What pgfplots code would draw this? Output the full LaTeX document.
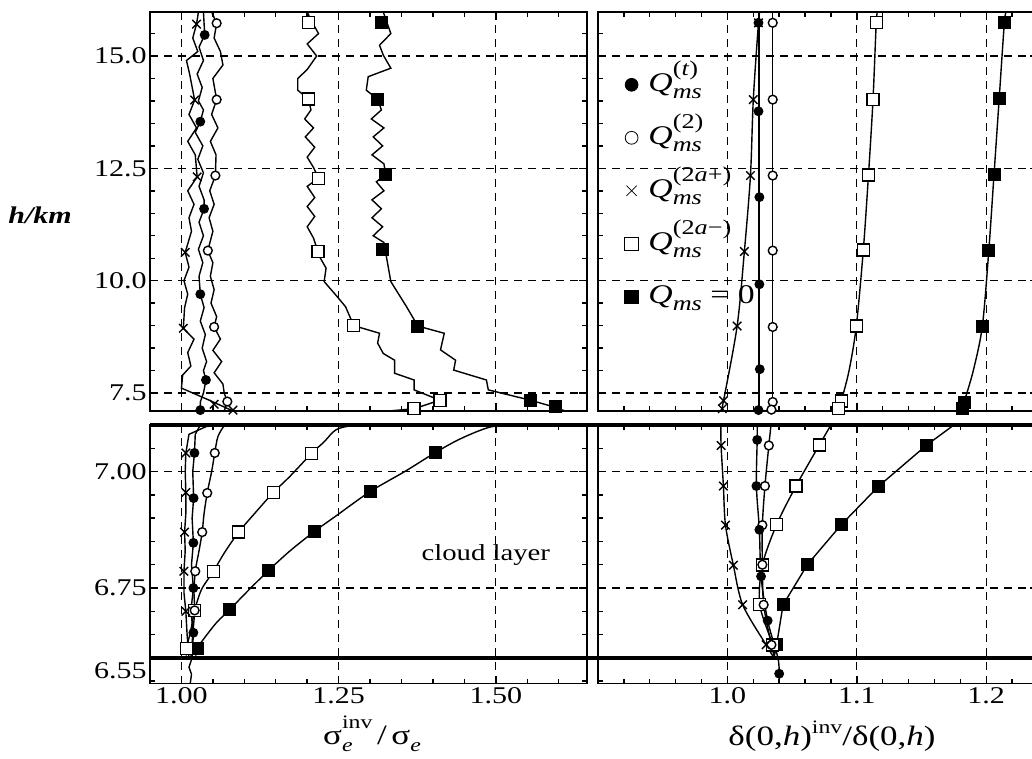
\documentclass[border=0pt]{standalone}
\usepackage{fontspec}
\setmainfont{Liberation Serif}[FakeStretch=1.25]
\usepackage{pgfplots}
\pgfplotsset{compat=1.18}

\newcommand{\sub}[1]{\raisebox{-0.55ex}{\fontsize{9.5}{10}\selectfont #1}}
\newcommand{\sps}[1]{\raisebox{0.95ex}{\fontsize{9.5}{10}\selectfont #1}}
\newcommand{\spsh}[1]{\raisebox{1.2ex}{\fontsize{9.5}{10}\selectfont #1}}
\newcommand{\Lsub}[1]{\raisebox{-0.6ex}{\fontsize{10.5}{11}\selectfont #1}}
\newcommand{\Lsps}[1]{\raisebox{1.25ex}{\fontsize{10.5}{11}\selectfont #1}}
\newcommand{\Qms}[1]{\textit{Q}\rlap{\Lsps{#1}}\Lsub{\textit{ms}}}

\pgfplotsset{
  panel/.style={scale only axis, axis line style={line width=0.9pt},
    tick style={line width=0.7pt,black}, major tick length=4pt, minor tick length=2.5pt,
    tick align=inside, xtick pos=both, ytick pos=both, grid=major,
    major grid style={line width=0.6pt, dash pattern=on 4pt off 3pt, black},
    tick label style={font=\fontsize{12}{14}\selectfont},
    yticklabel style={inner sep=1.5pt}, xticklabel style={inner sep=2pt}},
  dl/.style={line width=0.7pt, black, no marks, forget plot},
  mk/.style={only marks, line width=0.7pt, black, forget plot},
  sQt/.style={mark=*, mark size=2.1pt, mark options={fill=black, solid}},
  sQ2/.style={mark=*, mark size=2.2pt, mark options={fill=white, draw=black, solid}},
  sQp/.style={mark=x, mark size=3pt, mark options={solid}},
  sQm/.style={mark=square*, mark size=3pt, mark options={fill=white, draw=black, solid}},
  sQ0/.style={mark=square*, mark size=2.9pt, mark options={fill=black, solid}},
}

\begin{document}
\begin{tikzpicture}

% ---------------- top left ----------------
\begin{axis}[panel, name=TL, at={(75pt,-6pt)}, anchor=north west,
  width=218.5pt, height=199.5pt,
  xmin=0.95, xmax=1.645, ymin=7.1, ymax=15.98,
  xtick={1,1.25,1.5}, xticklabels={},
  minor xtick={1.05,1.1,1.15,1.2,1.3,1.35,1.4,1.45,1.55,1.6},
  ytick={7.5,10,12.5,15}, yticklabels={7.5,10.0,12.5,15.0},
  minor ytick={8,8.5,9,9.5,10.5,11,11.5,12,13,13.5,14,14.5,15.5}]
% Q_ms = 0
\addplot[dl] coordinates {(1.321,15.98) (1.333,15.5) (1.315,15.24) (1.321,15.02) (1.333,14.73) (1.297,14.54) (1.294,14.24) (1.312,14.04) (1.318,13.8) (1.302,13.6) (1.322,13.4) (1.305,13.2) (1.320,13.0) (1.303,12.8) (1.322,12.6) (1.325,12.37) (1.310,12.2) (1.322,12.0) (1.303,11.8) (1.318,11.6) (1.303,11.4) (1.320,11.2) (1.305,11.0) (1.322,10.85) (1.319,10.70) (1.325,10.61) (1.333,9.98) (1.358,9.42) (1.376,8.99) (1.418,8.83) (1.412,8.46) (1.436,8.23) (1.433,8.01) (1.485,7.79) (1.488,7.57) (1.555,7.34) (1.595,7.18) (1.61,7.1)};
% 2a-
\addplot[dl] coordinates {(1.200,15.98) (1.206,15.8) (1.218,15.5) (1.200,15.27) (1.215,15.0) (1.200,14.7) (1.185,14.5) (1.185,14.24) (1.202,14.04) (1.206,13.8) (1.196,13.6) (1.210,13.4) (1.197,13.2) (1.212,12.97) (1.200,12.75) (1.210,12.52) (1.218,12.28) (1.200,12.1) (1.212,11.85) (1.200,11.65) (1.212,11.43) (1.200,11.2) (1.210,10.95) (1.217,10.65) (1.221,10.5) (1.230,10.28) (1.227,9.98) (1.248,9.64) (1.261,9.42) (1.274,9.0) (1.315,8.83) (1.312,8.61) (1.321,8.38) (1.339,8.23) (1.339,7.94) (1.370,7.79) (1.370,7.57) (1.411,7.34) (1.370,7.15) (1.33,7.1)};
% t
\addplot[dl] coordinates {(1.035,15.98) (1.037,15.47) (1.028,15.2) (1.035,14.9) (1.025,14.6) (1.033,14.3) (1.027,14.0) (1.035,13.8) (1.030,13.54) (1.022,13.3) (1.034,13.0) (1.026,12.7) (1.035,12.4) (1.028,12.1) (1.036,11.8) (1.036,11.6) (1.028,11.3) (1.035,11.0) (1.027,10.7) (1.034,10.4) (1.028,10.1) (1.030,9.70) (1.036,9.4) (1.030,9.1) (1.038,8.8) (1.033,8.5) (1.040,8.2) (1.035,8.0) (1.039,7.79) (1.035,7.5) (1.030,7.3) (1.030,7.1)};
% 2
\addplot[dl] coordinates {(1.048,15.98) (1.056,15.73) (1.052,15.4) (1.062,15.1) (1.066,14.8) (1.050,14.5) (1.056,14.03) (1.048,13.7) (1.058,13.4) (1.046,13.1) (1.055,12.8) (1.054,12.34) (1.045,12.0) (1.052,11.7) (1.044,11.4) (1.050,11.1) (1.042,10.67) (1.050,10.4) (1.046,10.1) (1.052,9.8) (1.047,9.5) (1.056,9.2) (1.052,8.97) (1.062,8.7) (1.050,8.45) (1.064,8.2) (1.052,7.95) (1.066,7.7) (1.068,7.5) (1.073,7.31) (1.068,7.1)};
% 2a+
\addplot[dl] coordinates {(1.027,15.98) (1.024,15.71) (1.018,15.4) (1.026,15.1) (1.008,14.9) (1.013,14.6) (1.021,14.02) (1.012,13.7) (1.024,13.4) (1.010,13.1) (1.022,12.8) (1.025,12.31) (1.010,12.0) (1.020,11.7) (1.012,11.4) (1.016,11.1) (1.006,10.63) (1.012,10.3) (1.004,10.0) (1.010,9.7) (1.005,9.4) (1.003,8.94) (1.020,8.7) (1.010,8.4) (1.015,8.1) (1.002,7.9) (1.000,7.61) (1.041,7.36) (1.082,7.1)};
\addplot[mk,sQ0] coordinates {(1.318,15.74) (1.312,14.04) (1.325,12.37) (1.319,10.70) (1.376,8.99) (1.555,7.34) (1.595,7.19)};
\addplot[mk,sQm] coordinates {(1.202,15.74) (1.202,14.04) (1.218,12.28) (1.217,10.65) (1.274,9.0) (1.411,7.34) (1.370,7.15)};
\addplot[mk,sQt] coordinates {(1.037,15.47) (1.030,13.54) (1.036,11.6) (1.030,9.70) (1.039,7.79) (1.030,7.12)};
\addplot[mk,sQ2] coordinates {(1.056,15.73) (1.056,14.03) (1.054,12.34) (1.042,10.67) (1.052,8.97) (1.073,7.31)};
\addplot[mk,sQp] coordinates {(1.024,15.71) (1.021,14.02) (1.025,12.31) (1.006,10.63) (1.003,8.94) (1.052,7.25) (1.082,7.12)};
\end{axis}

% ---------------- top right ----------------
\begin{axis}[panel, name=TR, at={(299pt,-6pt)}, anchor=north west,
  width=220pt, height=199.5pt,
  xmin=0.9, xmax=1.24, ymin=7.1, ymax=15.98,
  xtick={1,1.1,1.2}, xticklabels={},
  minor xtick={0.92,0.94,0.96,0.98,1.02,1.04,1.06,1.08,1.12,1.14,1.16,1.18,1.22},
  ytick={7.5,10,12.5,15}, yticklabels={},
  minor ytick={8,8.5,9,9.5,10.5,11,11.5,12,13,13.5,14,14.5,15.5},
  legend style={at={(rel axis cs:0.06,0.885)}, anchor=north west, draw=none, fill=none,
    inner sep=0pt, row sep=0pt, column sep=4pt, font=\fontsize{13.5}{15}\selectfont,
    cells={anchor=west}, nodes={inner sep=1pt, text height=15.5pt, text depth=9pt}}]
\addplot[dl, smooth] coordinates {(1.2155,15.98) (1.214,15.74) (1.210,14.05) (1.206,12.36) (1.202,10.68) (1.197,8.99) (1.190,8.0) (1.183,7.30) (1.182,7.1)};
\addplot[dl, smooth] coordinates {(1.116,15.98) (1.115,15.74) (1.1125,14.03) (1.109,12.35) (1.105,10.68) (1.0996,8.99) (1.094,8.0) (1.088,7.32) (1.086,7.1)};
\addplot[dl] coordinates {(1.0245,15.98) (1.0245,7.1)};
\addplot[dl] coordinates {(1.035,15.98) (1.035,7.1)};
\addplot[dl, smooth] coordinates {(1.025,15.98) (1.024,15.74) (1.020,14.03) (1.0178,12.34) (1.0131,10.65) (1.0075,8.99) (0.997,7.33) (0.995,7.1)};
\addplot[mk,sQ0] coordinates {(1.214,15.74) (1.210,14.05) (1.206,12.36) (1.202,10.68) (1.197,8.99) (1.183,7.30) (1.182,7.15)};
\addplot[mk,sQm] coordinates {(1.115,15.74) (1.1125,14.03) (1.109,12.35) (1.105,10.68) (1.0996,8.99) (1.088,7.32) (1.086,7.15)};
\addplot[mk,sQt] coordinates {(1.024,15.74) (1.024,13.77) (1.0247,11.86) (1.0247,9.92) (1.025,8.03) (1.024,7.12)};
\addplot[mk,sQ2] coordinates {(1.035,15.74) (1.035,14.03) (1.035,12.34) (1.035,10.67) (1.035,8.97) (1.035,7.30) (1.034,7.13)};
\addplot[mk,sQp] coordinates {(1.024,15.74) (1.020,14.03) (1.0178,12.34) (1.0131,10.65) (1.0075,8.99) (0.997,7.33) (0.996,7.15)};
\addlegendimage{only marks, mark=*, mark size=3.2pt, mark options={fill=black}}
\addlegendentry{\Qms{(\textit{t})}}
\addlegendimage{only marks, mark=*, mark size=3.2pt, mark options={fill=white, draw=black}}
\addlegendentry{\Qms{(2)}}
\addlegendimage{only marks, mark=x, mark size=3.6pt}
\addlegendentry{\Qms{(2\textit{a}+)}}
\addlegendimage{only marks, mark=square*, mark size=3.4pt, mark options={fill=white, draw=black}}
\addlegendentry{\Qms{(2\textit{a}−)}}
\addlegendimage{only marks, mark=square*, mark size=3.4pt, mark options={fill=black}}
\addlegendentry{\textit{Q}\Lsub{\textit{ms}} = 0}
\end{axis}

% ---------------- bottom left ----------------
\begin{axis}[panel, name=BL, at={(75pt,-212.5pt)}, anchor=north west,
  width=218.5pt, height=129.25pt,
  xmin=0.95, xmax=1.645, ymin=6.545, ymax=7.10,
  xtick={1,1.25,1.5}, xticklabels={1.00,1.25,1.50},
  minor xtick={1.05,1.1,1.15,1.2,1.3,1.35,1.4,1.45,1.55,1.6},
  ytick={6.75,7.00}, yticklabels={6.75,7.00},
  minor ytick={6.55,6.6,6.65,6.7,6.8,6.85,6.9,6.95,7.05}]
\addplot[dl, smooth] coordinates {(1.023,6.605) (1.025,6.620) (1.035,6.640) (1.056,6.676) (1.077,6.704) (1.105,6.743) (1.138,6.787) (1.172,6.829) (1.211,6.871) (1.245,6.904) (1.300,6.957) (1.355,7.00) (1.404,7.041) (1.440,7.068) (1.476,7.089) (1.501,7.098) (1.55,7.10) (1.60,7.10)};
\addplot[dl, smooth] coordinates {(1.008,6.605) (1.008,6.620) (1.015,6.66) (1.021,6.702) (1.032,6.747) (1.051,6.786) (1.068,6.825) (1.091,6.870) (1.117,6.911) (1.146,6.955) (1.172,6.989) (1.207,7.039) (1.227,7.064) (1.245,7.089) (1.269,7.098) (1.32,7.10)};
\addplot[dl] coordinates {(1.014,6.545) (1.016,6.565) (1.012,6.58) (1.017,6.60) (1.019,6.654) (1.015,6.70) (1.019,6.750) (1.016,6.80) (1.019,6.847) (1.017,6.90) (1.0194,6.943) (1.018,7.0) (1.0207,7.04) (1.022,7.08) (1.03,7.10)};
\addplot[dl, smooth] coordinates {(1.015,6.60) (1.018,6.65) (1.021,6.702) (1.020,6.74) (1.022,6.786) (1.028,6.83) (1.033,6.870) (1.036,6.91) (1.041,6.954) (1.048,7.0) (1.053,7.04) (1.058,7.075) (1.068,7.098) (1.075,7.10)};
\addplot[dl] coordinates {(1.012,6.60) (1.009,6.65) (1.007,6.70) (1.004,6.74) (1.004,6.786) (1.006,6.83) (1.005,6.870) (1.007,6.91) (1.007,6.955) (1.006,7.0) (1.007,7.04) (1.012,7.08) (1.04,7.097) (1.08,7.10)};
\addplot[mk,sQ0] coordinates {(1.404,7.041) (1.300,6.957) (1.211,6.871) (1.138,6.787) (1.077,6.704) (1.025,6.620)};
\addplot[mk,sQm] coordinates {(1.207,7.039) (1.146,6.955) (1.091,6.870) (1.051,6.786) (1.021,6.702) (1.008,6.620)};
\addplot[mk,sQt] coordinates {(1.0207,7.04) (1.0194,6.943) (1.019,6.847) (1.019,6.750) (1.019,6.654)};
\addplot[mk,sQ2] coordinates {(1.053,7.04) (1.041,6.954) (1.033,6.870) (1.022,6.786) (1.021,6.702)};
\addplot[mk,sQp] coordinates {(1.007,7.04) (1.007,6.955) (1.005,6.870) (1.004,6.786) (1.007,6.70)};
\node[font=\fontsize{11.5}{13}\selectfont] at (axis cs:1.484,6.821) {cloud layer};
\coordinate (c1) at (axis cs:0.95,6.60);
\coordinate (l655) at (axis cs:0.95,6.573);
\end{axis}

% ---------------- bottom right ----------------
\begin{axis}[panel, name=BR, at={(299pt,-212.5pt)}, anchor=north west,
  width=220pt, height=129.25pt,
  xmin=0.9, xmax=1.24, ymin=6.545, ymax=7.10,
  xtick={1,1.1,1.2}, xticklabels={1.0,1.1,1.2},
  minor xtick={0.92,0.94,0.96,0.98,1.02,1.04,1.06,1.08,1.12,1.14,1.16,1.18,1.22},
  ytick={6.75,7.00}, yticklabels={},
  minor ytick={6.55,6.6,6.65,6.7,6.8,6.85,6.9,6.95,7.05}]
\addplot[dl] coordinates {(1.036,6.60) (1.038,6.628) (1.043,6.714) (1.062,6.801) (1.088,6.886) (1.117,6.969) (1.154,7.057) (1.175,7.10)};
\addplot[dl, smooth] coordinates {(1.036,6.605) (1.035,6.628) (1.025,6.714) (1.027,6.799) (1.038,6.886) (1.053,6.969) (1.071,7.057) (1.080,7.10)};
\addplot[dl, smooth] coordinates {(1.036,6.605) (1.034,6.628) (1.028,6.714) (1.027,6.80) (1.027,6.885) (1.029,6.969) (1.032,7.056) (1.0337,7.10)};
\addplot[dl, smooth] coordinates {(1.040,6.545) (1.040,6.566) (1.039,6.60) (1.0311,6.680) (1.026,6.775) (1.0247,6.875) (1.0224,6.969) (1.023,7.068) (1.023,7.10)};
\addplot[dl, smooth] coordinates {(1.036,6.60) (1.0299,6.628) (1.0118,6.714) (1.0046,6.799) (0.9985,6.885) (0.9969,6.969) (0.9951,7.056) (0.995,7.10)};
\addplot[mk,sQ0] coordinates {(1.154,7.057) (1.117,6.969) (1.088,6.886) (1.062,6.801) (1.043,6.714) (1.038,6.628)};
\addplot[mk,sQm] coordinates {(1.071,7.057) (1.053,6.969) (1.038,6.886) (1.027,6.799) (1.025,6.714) (1.035,6.628)};
\addplot[mk,sQ2] coordinates {(1.032,7.056) (1.029,6.969) (1.027,6.885) (1.027,6.80) (1.028,6.714) (1.034,6.628)};
\addplot[mk,sQt] coordinates {(1.023,7.068) (1.0224,6.969) (1.0247,6.875) (1.026,6.775) (1.0311,6.680) (1.040,6.566)};
\addplot[mk,sQp] coordinates {(0.9951,7.056) (0.9969,6.969) (0.9985,6.885) (1.0046,6.799) (1.0118,6.714) (1.0299,6.628)};
\coordinate (c2) at (axis cs:1.24,6.60);
\end{axis}

% cloud layer boundaries
\draw[line width=2pt] (BL.north west) -- (BR.north east);
\draw[line width=2pt] (c1) -- (c2);

\node[anchor=east, inner sep=1.5pt, font=\fontsize{12}{14}\selectfont] at (l655) {6.55};

\node[font=\fontsize{12}{14}\selectfont\bfseries\itshape] at (20pt,-107.5pt) {h/km};
\node[font=\fontsize{14}{16}\selectfont] at (186pt,-367pt) {σ\rlap{\sub{\textit{e}}}\spsh{inv}\,/\,σ\sub{\textit{e}}};
\node[font=\fontsize{14}{16}\selectfont] at (416pt,-368pt) {δ(0,\textit{h})\sps{inv}/δ(0,\textit{h})};

\pgfresetboundingbox
\useasboundingbox (0,0) rectangle (516pt,-379.5pt);
\end{tikzpicture}
\end{document}
